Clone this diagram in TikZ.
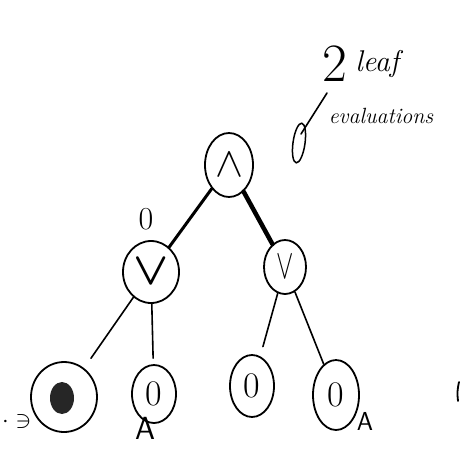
\documentclass[tikz,border=0pt]{standalone}
\usepackage{amsmath}
\usetikzlibrary{shapes.geometric}

\begin{document}
\begin{tikzpicture}[
                x=1pt, y=-1pt,
                every node/.style={inner sep=0pt},
                tnode/.style={ellipse,draw,line width=1.8pt},
                edge/.style={line width=1.6pt,line cap=round},
                big/.style={font=\fontsize{36}{36}\selectfont},
                note/.style={font=\fontsize{22}{22}\selectfont\itshape}
            ]
            \useasboundingbox (0,0) rectangle (462,450);

            % inner nodes
            \node[tnode,minimum width=48pt,minimum height=64pt] (root) at (229,165)
                {\scalebox{4.2}{$\wedge$}};
            \node[tnode,minimum width=56pt,minimum height=62pt] (orl) at (151,272)
                {\scalebox{4.6}{$\boldsymbol{\vee}$}};
            \node[tnode,minimum width=42pt,minimum height=54pt] (orr) at (285,267)
                {\scalebox{2.6}[4.2]{$\vee$}};

            % leaves
            \node[tnode,minimum width=66pt,minimum height=70pt] (leafa) at (64,397) {};
            \fill[black!85] (62,398) ellipse [x radius=12, y radius=16];
            \node[tnode,minimum width=44pt,minimum height=58pt,big] (leafb) at (154,394) {0};
            \node[tnode,minimum width=44pt,minimum height=62pt,big] (leafc) at (252,386) {0};
            \node[tnode,minimum width=46pt,minimum height=70pt,big] (leafd) at (336,395) {0};

            % edges
            \draw[edge,line width=3pt] (root) -- (orl);
            \draw[edge,line width=4.5pt] (root) -- (orr);
            \draw[edge,shorten >=12pt] (orl) -- (leafa);
            \draw[edge,shorten >=6pt] (orl) -- (leafb);
            \draw[edge,shorten >=10pt] (orr) -- (leafc);
            \draw[edge] (orr) -- (leafd);

            % values next to the nodes
            \node[font=\fontsize{32}{32}\selectfont] (vorl) at (146,219) {0};
            \node[anchor=west] (va) at (2,421) {\scalebox{2.4}{$\cdot\ni$}};
            \node[font=\fontsize{32}{32}\selectfont\sffamily] (vb) at (145,428) {A};
            \node[font=\fontsize{26}{26}\selectfont\sffamily] (vd) at (365,421) {A};

            % note on the right
            \node[font=\fontsize{54}{54}\selectfont] (two) at (335,64) {2};
            \node[font=\fontsize{30}{30}\selectfont\itshape] (leafword) at (377,64) {leaf};
            \node[note] (evals) at (381,116) {evaluations};
            \draw[edge] (327,93) -- (301,134);
            \draw[line width=1.5pt,rotate around={-8:(299,143)}] (299,143) ellipse [x radius=6, y radius=20];
            \draw[line width=1.8pt,line cap=round] (459,382) to[bend right=10] (458,401);

        \end{tikzpicture}
\end{document}
